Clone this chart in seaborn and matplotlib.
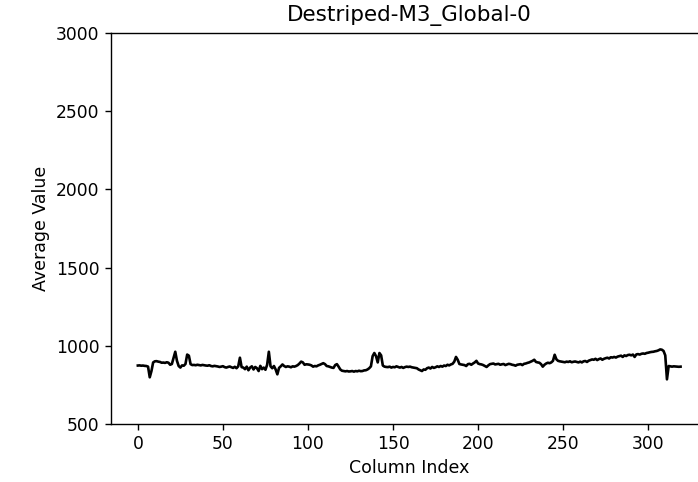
import matplotlib
matplotlib.use("Agg")
import matplotlib.pyplot as plt
import numpy as np
import pandas as pd
import seaborn as sns

# Valores médios por coluna, 20 por linha
avg_values = [
    875, 876, 874, 875, 873, 872, 868, 800, 840, 895, 902, 903, 900, 898, 893, 894, 892, 896, 893, 880,
    885, 925, 963, 905, 872, 862, 876, 874, 885, 945, 938, 884, 878, 879, 877, 880, 878, 876, 879, 877,
    875, 874, 877, 872, 870, 873, 871, 869, 866, 868, 871, 865, 862, 866, 869, 864, 860, 867, 858, 870,
    925, 865, 862, 852, 868, 845, 862, 870, 850, 866, 858, 840, 873, 852, 862, 848, 880, 963, 870, 858,
    872, 850, 819, 860, 870, 882, 872, 866, 870, 868, 864, 870, 868, 872, 878, 888, 900, 895, 880, 883,
    882, 880, 876, 868, 872, 870, 876, 880, 885, 890, 884, 872, 870, 866, 862, 860, 878, 884, 868, 850,
    842, 840, 838, 840, 837, 838, 840, 836, 840, 838, 842, 839, 840, 844, 845, 850, 858, 870, 935, 955,
    935, 895, 955, 940, 875, 868, 866, 865, 868, 862, 866, 864, 870, 866, 862, 866, 860, 865, 868, 866,
    868, 864, 862, 860, 858, 850, 845, 840, 850, 848, 858, 862, 856, 866, 860, 864, 870, 866, 872, 868,
    875, 872, 880, 876, 882, 886, 900, 930, 912, 885, 882, 880, 878, 872, 884, 886, 880, 888, 895, 905,
    888, 884, 882, 878, 872, 866, 876, 884, 886, 888, 882, 884, 886, 880, 883, 885, 878, 882, 886, 884,
    880, 878, 874, 880, 882, 884, 878, 886, 888, 892, 895, 900, 905, 912, 898, 895, 893, 884, 868, 880,
    888, 893, 890, 895, 905, 944, 915, 905, 902, 900, 898, 896, 900, 898, 902, 896, 899, 901, 898, 895,
    900, 895, 902, 904, 898, 906, 910, 914, 912, 918, 910, 916, 920, 912, 918, 922, 925, 920, 928, 926,
    930, 926, 932, 935, 938, 930, 940, 936, 942, 944, 940, 945, 930, 946, 948, 945, 950, 952, 950, 955,
    957, 960, 962, 963, 966, 968, 972, 978, 976, 968, 940, 787, 872, 870, 868, 870, 869, 868, 867, 868,
]
column_index = list(range(len(avg_values)))

title = "Destriped-M3_Global-0"
x_label = "Column Index"
y_label = "Average Value"
y_ticks = [500, 1000, 1500, 2000, 2500, 3000]

df = pd.DataFrame({"col": column_index, "avg": avg_values})

fig = plt.figure(figsize=(6.98, 4.82), dpi=100)
# eixo ultrapassa a borda direita (imagem original cortada)
ax = fig.add_axes([0.1586, 0.1197, 0.8553, 0.8127])

sns.lineplot(data=df, x="col", y="avg", color="black", linewidth=1.9, ax=ax)

ax.set_ylim(500, 3000)
ax.set_yticks(y_ticks)
ax.set_xlim(-15.95, 334.95)
ax.set_title(title, fontsize=15.5, pad=8)
ax.set_xlabel(x_label, fontsize=12.5)
ax.set_ylabel(y_label, fontsize=12.5)
ax.tick_params(labelsize=12.3, length=4.5, width=1.0)
for s in ax.spines.values():
    s.set_linewidth(1.0)

fig.savefig("out.png", dpi=100)
plt.close(fig)
